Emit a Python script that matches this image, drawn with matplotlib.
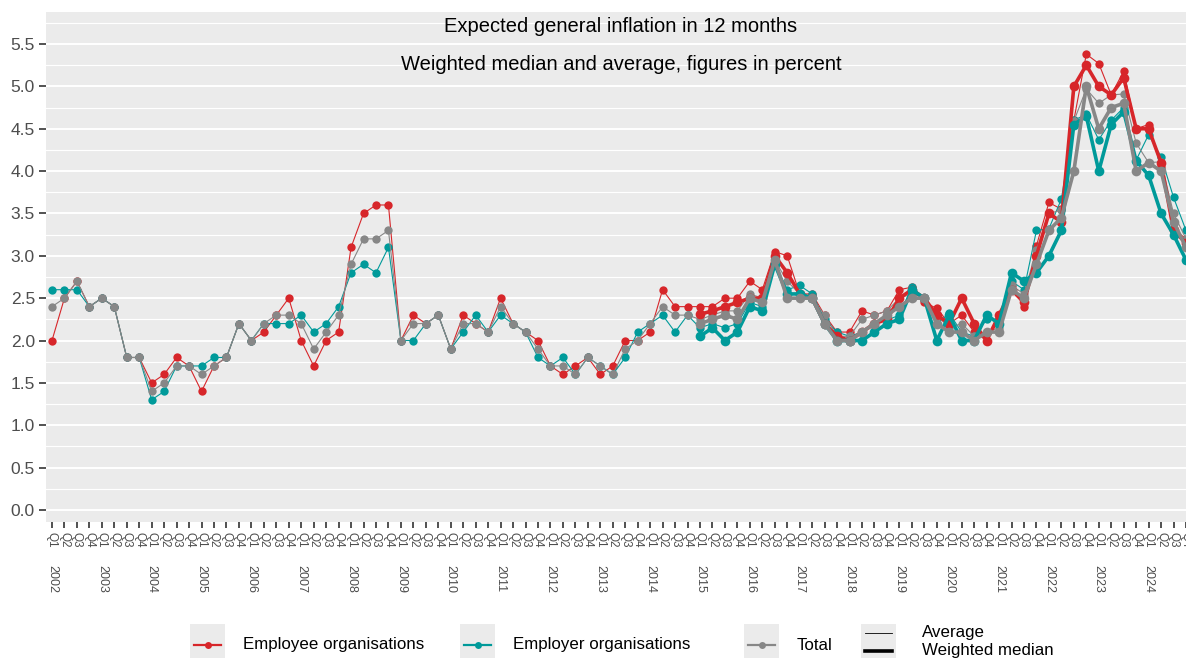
import numpy as np
import matplotlib
matplotlib.use("Agg")
import matplotlib.pyplot as plt
from matplotlib.patches import Rectangle
from matplotlib.lines import Line2D
from matplotlib.ticker import MultipleLocator

plt.rcParams['font.family'] = ['Liberation Sans', 'DejaVu Sans']

# quarters Q1 2002 .. Q4 2024
years = list(range(2002, 2025))
quarters = ['Q1', 'Q2', 'Q3', 'Q4']

# Average (thin), 2002Q1 - 2024Q4
employee_avg = [2.0, 2.5, 2.7, 2.4,  2.5, 2.4, 1.8, 1.8,  1.5, 1.6, 1.8, 1.7,  1.4, 1.7, 1.8, 2.2,
                2.0, 2.1, 2.3, 2.5,  2.0, 1.7, 2.0, 2.1,  3.1, 3.5, 3.6, 3.6,  2.0, 2.3, 2.2, 2.3,
                1.9, 2.3, 2.2, 2.1,  2.5, 2.2, 2.1, 2.0,  1.7, 1.6, 1.7, 1.8,  1.6, 1.7, 2.0, 2.0,
                2.1, 2.6, 2.4, 2.4,  2.4, 2.4, 2.5, 2.5,  2.7, 2.6, 3.05, 3.0,  2.55, 2.55, 2.3, 2.1,
                2.1, 2.35, 2.3, 2.35,  2.6, 2.63, 2.45, 2.38,  2.2, 2.3, 2.1, 2.0,  2.25, 2.65, 2.4, 3.12,
                3.63, 3.55, 4.6, 5.38,  5.27, 4.9, 5.18, 4.5,  4.55, 4.05, 3.32, 3.2]
employer_avg = [2.6, 2.6, 2.6, 2.4,  2.5, 2.4, 1.8, 1.8,  1.3, 1.4, 1.7, 1.7,  1.7, 1.8, 1.8, 2.2,
                2.0, 2.2, 2.2, 2.2,  2.3, 2.1, 2.2, 2.4,  2.8, 2.9, 2.8, 3.1,  2.0, 2.0, 2.2, 2.3,
                1.9, 2.1, 2.3, 2.1,  2.3, 2.2, 2.1, 1.8,  1.7, 1.8, 1.6, 1.8,  1.7, 1.6, 1.8, 2.1,
                2.2, 2.3, 2.1, 2.3,  2.15, 2.2, 2.15, 2.2,  2.45, 2.4, 2.9, 2.6,  2.65, 2.55, 2.25, 2.1,
                2.05, 2.1, 2.2, 2.24,  2.3, 2.63, 2.5, 2.2,  2.32, 2.1, 2.05, 2.25,  2.25, 2.7, 2.6, 3.3,
                3.32, 3.67, 4.6, 4.67,  4.37, 4.6, 4.75, 4.13,  4.43, 4.17, 3.69, 3.3]
total_avg = [2.4, 2.5, 2.7, 2.4,  2.5, 2.4, 1.8, 1.8,  1.4, 1.5, 1.7, 1.7,  1.6, 1.7, 1.8, 2.2,
             2.0, 2.2, 2.3, 2.3,  2.2, 1.9, 2.1, 2.3,  2.9, 3.2, 3.2, 3.3,  2.0, 2.2, 2.2, 2.3,
             1.9, 2.2, 2.2, 2.1,  2.4, 2.2, 2.1, 1.9,  1.7, 1.7, 1.6, 1.8,  1.7, 1.6, 1.9, 2.0,
             2.2, 2.4, 2.3, 2.3,  2.25, 2.3, 2.35, 2.35,  2.55, 2.5, 2.95, 2.7,  2.55, 2.5, 2.3, 2.05,
             2.05, 2.25, 2.3, 2.35,  2.5, 2.55, 2.5, 2.3,  2.15, 2.2, 2.05, 2.1,  2.15, 2.65, 2.55, 3.07,
             3.5, 3.54, 4.59, 4.97,  4.8, 4.9, 4.91, 4.33,  4.1, 4.11, 3.5, 3.2]

# Weighted median (thick), 2015Q1 - 2024Q4
median_start = 2015
employee_med = [2.31, 2.35, 2.4, 2.45,  2.5, 2.5, 3.0, 2.8,  2.55, 2.5, 2.2, 2.05,  2.0, 2.1, 2.2, 2.25,
                2.5, 2.6, 2.5, 2.3,  2.2, 2.5, 2.2, 2.0,  2.3, 2.6, 2.45, 3.0,  3.5, 3.4, 5.0, 5.25,
                5.0, 4.9, 5.1, 4.5,  4.5, 4.1, 3.3, 3.15]
employer_med = [2.05, 2.15, 2.0, 2.1,  2.4, 2.35, 2.9, 2.55,  2.55, 2.5, 2.2, 2.0,  2.0, 2.0, 2.1, 2.2,
                2.25, 2.6, 2.5, 2.0,  2.3, 2.0, 2.0, 2.3,  2.2, 2.8, 2.7, 2.8,  3.0, 3.3, 4.55, 4.65,
                4.0, 4.55, 4.7, 4.12,  3.95, 3.5, 3.25, 2.95]
total_med = [2.2, 2.25, 2.3, 2.25,  2.5, 2.45, 2.95, 2.5,  2.5, 2.5, 2.2, 2.0,  2.0, 2.1, 2.2, 2.3,
             2.4, 2.5, 2.5, 2.2,  2.1, 2.1, 2.0, 2.1,  2.1, 2.6, 2.5, 2.9,  3.3, 3.45, 4.0, 5.0,
             4.5, 4.75, 4.8, 4.0,  4.1, 4.0, 3.4, 3.1]

colors = {'Employee organisations': '#D7262A',
          'Employer organisations': '#009A9A',
          'Total': '#878787'}

W, H = 1186, 658
fig = plt.figure(figsize=(W / 100, H / 100), dpi=100)
ax = fig.add_axes([46 / W, 1 - 522 / H, 1 - 46 / W, 510 / H])
ax.set_facecolor('#EBEBEB')
for s in ax.spines.values():
    s.set_visible(False)

n = len(years) * 4
x_all = np.arange(n)
off = (median_start - years[0]) * 4
x_med = np.arange(off, off + len(employee_med))

avg = {'Employee organisations': employee_avg, 'Employer organisations': employer_avg, 'Total': total_avg}
med = {'Employee organisations': employee_med, 'Employer organisations': employer_med, 'Total': total_med}

for name in colors:
    ax.plot(x_all, avg[name], color=colors[name], lw=0.8, marker='o', ms=6,
            mec='none', zorder=3)
for name in colors:
    ax.plot(x_med, med[name], color=colors[name], lw=2.6, marker='o', ms=7,
            mec='none', zorder=4)

ax.set_xlim(-0.48, 90.87)
ax.set_ylim(-0.142, 5.878)
ax.yaxis.set_major_locator(MultipleLocator(0.5))
ax.yaxis.set_minor_locator(MultipleLocator(0.25))
ax.grid(which='major', axis='y', color='white', lw=1.4, zorder=0)
ax.grid(which='minor', axis='y', color='white', lw=0.8, zorder=0)
ax.set_axisbelow(True)
ax.set_yticklabels([f"{v:.1f}" for v in ax.get_yticks()])
ax.tick_params(axis='y', which='major', length=5, width=1.2, color='#333333',
               labelsize=12.5, labelcolor='#4D4D4D', pad=3)
ax.tick_params(axis='y', which='minor', length=0)

ax.set_xticks(x_all)
ax.set_xticklabels(quarters * len(years), rotation=-90)
ax.tick_params(axis='x', length=4, width=1.2, color='#333333', labelsize=8.5,
               labelcolor='#4D4D4D', pad=3)
for k, yr in enumerate(years):
    ax.text(k * 4, -0.084, str(yr), rotation=-90, ha='center', va='top', fontsize=9,
            color='#4D4D4D', transform=ax.get_xaxis_transform(), clip_on=False)

fig.text(621 / W, 1 - 27 / H, 'Expected general inflation in 12 months', ha='center', va='center',
         fontsize=14.5)
fig.text(621 / W, 1 - 64 / H, 'Weighted median and average, figures in percent', ha='center',
         va='center', fontsize=14.5)

# legend, drawn in pixel coordinates
lg = fig.add_axes([0, 0, 1, 1], zorder=5)
lg.set_xlim(0, W)
lg.set_ylim(H, 0)
lg.axis('off')
keys = [(190, 'Employee organisations'), (460, 'Employer organisations'), (744, 'Total')]
for kx, name in keys:
    lg.add_patch(Rectangle((kx, 624), 35, 35, color='#EBEBEB', lw=0))
    lg.add_line(Line2D([kx + 4, kx + 31], [645, 645], color=colors[name], lw=1.6))
    lg.plot([kx + 17.5], [645], 'o', color=colors[name], ms=5, mec='none')
    lg.text(kx + 53, 645, name, va='center', ha='left', fontsize=12.2)
lg.add_patch(Rectangle((861, 624), 35, 35, color='#EBEBEB', lw=0))
lg.add_line(Line2D([865, 892], [633, 633], color='black', lw=0.6))
lg.add_line(Line2D([865, 892], [651, 651], color='black', lw=2.6))
lg.text(922, 633, 'Average', va='center', ha='left', fontsize=12.2)
lg.text(922, 651, 'Weighted median', va='center', ha='left', fontsize=12.2)

fig.savefig('out.png', dpi=100)
